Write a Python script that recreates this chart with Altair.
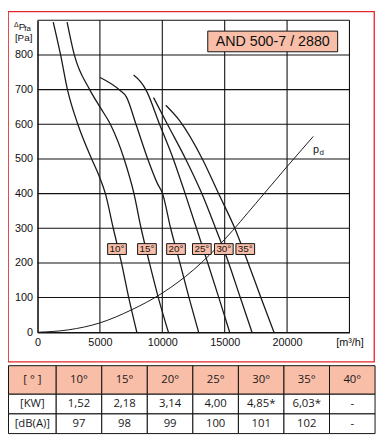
import altair as alt
import pandas as pd

# ---------------- data ----------------
q10 = [1260, 1850, 2400, 3230, 4340, 4890, 5440, 6070, 6730, 7310, 7960]
p10 = [895, 800, 700, 600, 500, 455, 400, 300, 200, 100, 0]
q15 = [2370, 2950, 4180, 5000, 5840, 6940, 7730, 8300, 8970, 9680, 10490]
p15 = [895, 800, 700, 650, 600, 500, 400, 300, 200, 100, 0]
q20 = [5020, 6600, 7120, 7890, 8830, 9620, 10020, 10670, 11410, 12140, 12910]
p20 = [735, 698, 679, 600, 500, 428, 400, 300, 200, 100, 0]
q25 = [7700, 8300, 8680, 9780, 10880, 11830, 12740, 13640, 14530, 15400]
p25 = [742, 721, 700, 600, 500, 400, 300, 200, 100, 0]
q30 = [9300, 10410, 11870, 13170, 14270, 15320, 16250, 17190]
p30 = [677, 600, 500, 400, 300, 200, 100, 0]
q35 = [10280, 11400, 13210, 14510, 15810, 16880, 17900, 18950]
p35 = [655, 610, 500, 400, 300, 200, 100, 0]
qd = [0, 2500, 5000, 7500, 10000, 12500, 15000, 17500, 20000, 22100]
pdyn = [0, 7, 27, 64, 113, 180, 268, 372, 478, 565]

grid_q = [5000, 10000, 15000, 20000, 25000]
grid_p = [100, 200, 300, 400, 500, 600, 700, 800, 900]
xtick_vals = [0, 5000, 10000, 15000, 20000, 25000]
ytick_vals = [0, 100, 200, 300, 400, 500, 600, 700, 800]

label_q = [6370, 8770, 11100, 13170, 14930, 16650]
label_p = [240, 240, 240, 240, 240, 240]
label_txt = ["10°", "15°", "20°", "25°", "30°", "35°"]

title_txt = "AND 500-7 / 2880"

table_head = ["[ ° ]", "10°", "15°", "20°", "25°", "30°", "35°", "40°"]
table_kw = ["[KW]", "1,52", "2,18", "3,14", "4,00", "4,85*", "6,03*", "-"]
table_db = ["[dB(A)]", "97", "98", "99", "100", "101", "102", "-"]

# ---------------- styling ----------------
SALMON = "#F9BEA8"
INK = "#111111"
FONT = "Liberation Sans"
TFONT = "Open Sans"

X_SCALE = alt.Scale(domain=[0, 25000], range=[30, 347], nice=False, zero=False)
Y_SCALE = alt.Scale(domain=[0, 900], range=[326, 9], nice=False, zero=False)

X_AXIS = alt.Axis(values=xtick_vals, format="d",
                  labelExpr="datum.value == 25000 ? '[m³/h]' : datum.label",
                  orient="bottom", offset=-30, grid=False, ticks=False,
                  domain=True, domainColor=INK, domainWidth=1.6,
                  labelFont=FONT, labelFontSize=11, labelColor=INK,
                  labelPadding=4, labelFlush=False, labelOverlap=False, title=None)
Y_AXIS = alt.Axis(values=ytick_vals, format="d", orient="left", offset=-30,
                  grid=False, ticks=False, domain=True, domainColor=INK,
                  domainWidth=1.6, labelFont=FONT, labelFontSize=11,
                  labelColor=INK, labelPadding=5, labelOverlap=False, title=None)


def X(field):
    return alt.X(field, type="quantitative", scale=X_SCALE, axis=X_AXIS)


def Y(field):
    return alt.Y(field, type="quantitative", scale=Y_SCALE, axis=Y_AXIS)


# ---------------- tables built from the arrays ----------------
curve_rows = []
for name, qs, ps in [("10", q10, p10), ("15", q15, p15), ("20", q20, p20),
                     ("25", q25, p25), ("30", q30, p30), ("35", q35, p35)]:
    for q, p in zip(qs, ps):
        curve_rows.append({"curve": name, "q": q, "p": p})
curve_df = pd.DataFrame(curve_rows)
pd_df = pd.DataFrame({"q": qd, "p": pdyn})
vgrid_df = pd.DataFrame({"q": grid_q, "p0": [0] * len(grid_q), "p1": [900] * len(grid_q)})
hgrid_df = pd.DataFrame({"p": grid_p, "q0": [0] * len(grid_p), "q1": [25000] * len(grid_p)})
label_df = pd.DataFrame({"q": label_q, "p": label_p, "t": label_txt})
one = pd.DataFrame({"a": [0]})

cell_rows = []
for r, row in enumerate([table_head, table_kw, table_db]):
    for c, txt in enumerate(row):
        cell_rows.append({"col": c, "row": r, "txt": txt})
cell_df = pd.DataFrame(cell_rows)

# ---------------- plot layers ----------------
vgrid = alt.Chart(vgrid_df).mark_rule(color=INK, strokeWidth=1.1).encode(
    x=X("q"), y=Y("p0"), y2="p1")
hgrid = alt.Chart(hgrid_df).mark_rule(color=INK, strokeWidth=1.1).encode(
    y=Y("p"), x=X("q0"), x2="q1")

curves = alt.Chart(curve_df).mark_line(color="#1a1a1a", stroke="#1a1a1a", strokeWidth=1.3,
                                       interpolate="monotone").encode(
    x=X("q"), y=Y("p"), detail="curve:N")
pdline = alt.Chart(pd_df).mark_line(color="#1a1a1a", stroke="#1a1a1a", strokeWidth=1.0,
                                    interpolate="monotone").encode(x=X("q"), y=Y("p"))

BOX = "M-1,-0.58L1,-0.58L1,0.58L-1,0.58Z"
lbl_box = alt.Chart(label_df).mark_point(shape=BOX, size=361, filled=True,
                                         fill=SALMON, stroke=INK, strokeWidth=1,
                                         opacity=1).encode(x=X("q"), y=Y("p"))
lbl_txt = alt.Chart(label_df).mark_text(font=FONT, fontSize=10, color=INK, fill=INK,
                                        align="center", baseline="middle", dy=0.5).encode(
    x=X("q"), y=Y("p"), text="t:N")


def note(text, x, y, size, align="left"):
    return alt.Chart(one).mark_text(text=text, font=FONT, fontSize=size, color=INK, fill=INK,
                                    align=align, baseline="alphabetic").encode(
        x=alt.value(x), y=alt.value(y))


title_box = alt.Chart(one).mark_rect(fill=SALMON, stroke=INK, strokeWidth=1).encode(
    x=alt.value(203), x2=alt.value(335), y=alt.value(20), y2=alt.value(41))
title_text = alt.Chart(one).mark_text(text=title_txt, font=FONT, fontSize=14.5,
                                      color=INK, fill=INK, align="center",
                                      baseline="middle").encode(
    x=alt.value(269), y=alt.value(31))

plot = alt.layer(
    vgrid, hgrid, curves, pdline, lbl_box, lbl_txt, title_box, title_text,
    note("Δ", 6, 16, 7), note("P", 11, 19, 10), note("fa", 16.5, 19.5, 8),
    note("[Pa]", 7, 30.5, 10),
    note("p", 310, 144, 11), note("d", 316.5, 146, 8),
)

# ---------------- table ----------------
TX = alt.Scale(domain=[0, 1, 8], range=[0.5, 49, 373], nice=False, zero=False)
TY = alt.Scale(domain=[0, 1, 3], range=[360, 389, 429], nice=False, zero=False)

cells = alt.Chart(cell_df).transform_calculate(
    c0="datum.col", c1="datum.col + 1", r0="datum.row", r1="datum.row + 1"
).mark_rect(stroke=INK, strokeWidth=1).encode(
    x=alt.X("c0:Q", scale=TX, axis=None), x2="c1:Q",
    y=alt.Y("r0:Q", scale=TY, axis=None), y2="r1:Q",
    fill=alt.condition("datum.row == 0", alt.value(SALMON), alt.value("white")))
cell_txt = alt.Chart(cell_df).transform_calculate(
    cm="datum.col + 0.5", rm="datum.row + 0.5"
).mark_text(font=TFONT, fontSize=11.5, color="#1a1a1a", fill="#1a1a1a", align="center",
            baseline="middle").encode(
    x=alt.X("cm:Q", scale=TX, axis=None),
    y=alt.Y("rm:Q", scale=TY, axis=None), text="txt:N")
table = alt.layer(cells, cell_txt)

chart = alt.layer(plot, table).resolve_scale(x="independent", y="independent").properties(
    width=372, height=356,
    autosize=alt.AutoSizeParams(type="none"),
    padding={"left": 0, "top": 0, "right": 4, "bottom": 75},
).configure_view(stroke="#E3262D", strokeWidth=1.3)

chart.save("out.html", embed_options={"renderer": "svg", "actions": False})
